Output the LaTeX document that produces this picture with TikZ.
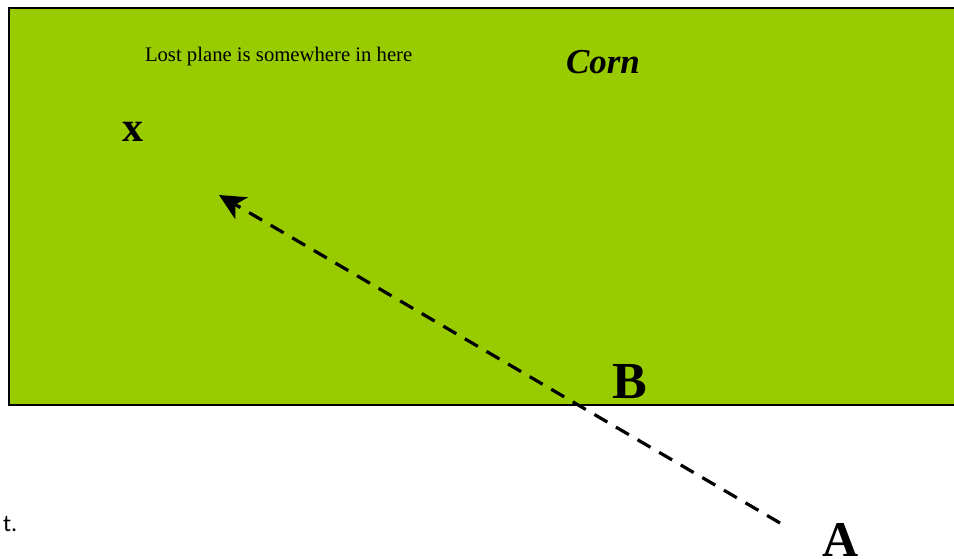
\documentclass[tikz,border=0pt]{standalone}
\usepackage{fontspec}
\setmainfont{Liberation Serif}
\newfontfamily\carl{Carlito}
\usetikzlibrary{arrows.meta}
\definecolor{corngreen}{RGB}{153,204,0}
\tikzset{
  lbl/.style={anchor=base west, inner sep=0pt, outer sep=0pt, text=black},
  field/.style={fill=corngreen, draw=black, line width=1.6pt},
  path/.style={line width=3.2pt, dash pattern=on 15pt off 10pt,
    -{Stealth[length=26pt, width=25pt, inset=7pt]}}
}
\begin{document}
\begin{tikzpicture}[x=1pt, y=-1pt]
\useasboundingbox (0,0) rectangle (954,559);
\clip (0,0) rectangle (954,559);
\path[field] (9,8) rectangle (970,405);
\node[lbl, font=\fontsize{20.7}{24}\selectfont] (lost) at (145,62) {Lost plane is somewhere in here};
\node[lbl, font=\fontsize{35}{40}\selectfont\bfseries\itshape] (corn) at (566,74) {Corn};
\node[lbl, font=\fontsize{42}{46}\selectfont\bfseries] (x) at (122,142) {x};
\node[lbl, font=\fontsize{52}{56}\selectfont\bfseries] (B) at (612,398) {B};
\node[lbl, font=\fontsize{50}{54}\selectfont\bfseries] (A) at (822,556) {A};
\node[lbl, font=\carl\fontsize{24}{28}\selectfont] (t) at (3,531) {t.};
\coordinate (start) at (780,523);
\coordinate (tip) at (219,195);
\draw[path] (start) -- (tip);
\end{tikzpicture}
\end{document}
